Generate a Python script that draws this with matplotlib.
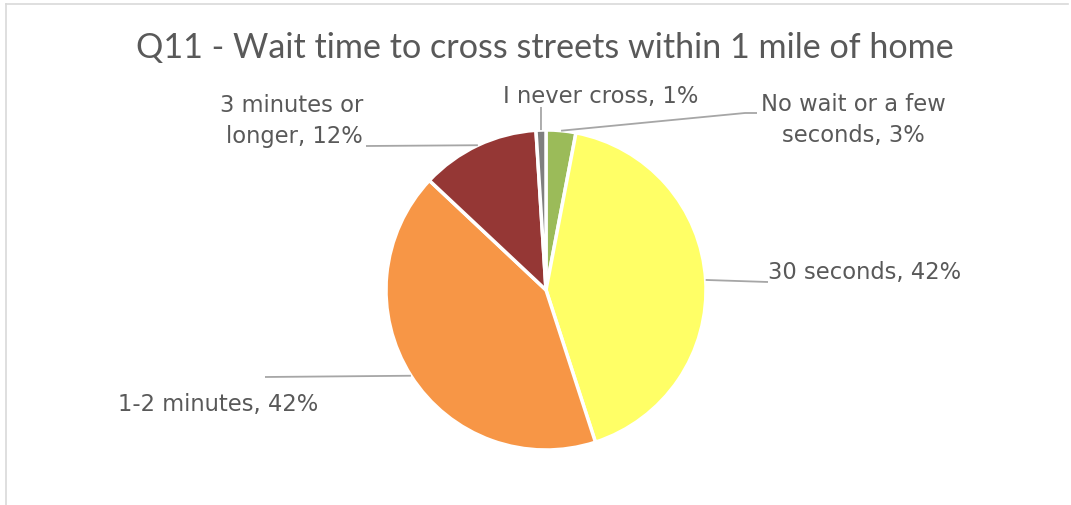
import matplotlib.pyplot as plt
import numpy as np
from matplotlib.lines import Line2D

# survey answers, clockwise from 12 o'clock
categories = ["No wait or a few seconds", "30 seconds", "1-2 minutes",
              "3 minutes or longer", "I never cross"]
shares = [3, 42, 42, 12, 1]
label_texts = ["No wait or a few\nseconds, 3%", "30 seconds, 42%", "1-2 minutes, 42%",
               "3 minutes or\nlonger, 12%", "I never cross, 1%"]
colors = ["#9BBB59", "#FFFF66", "#F79646", "#953735", "#7F7F7F"]
title = "Q11 - Wait time to cross streets within 1 mile of home"

W, H = 1071, 505
fig = plt.figure(figsize=(W / 100, H / 100), dpi=100)
ax = fig.add_axes([0, 0, 1, 1])

cx, cy, r = 546, H - 290, 160
wedges, _ = ax.pie(shares, colors=colors, center=(cx, cy), radius=r,
                   startangle=90, counterclock=False,
                   wedgeprops=dict(edgecolor="white", linewidth=2.5))
ax.set_xlim(0, W)
ax.set_ylim(0, H)
ax.set_aspect("equal")
ax.axis("off")

txt = "#595959"
lead = "#A6A6A6"
lab_font = dict(family="DejaVu Sans", fontsize=16.3, color=txt)

# label anchor (text x, y, ha) and leader path after the slice edge point
layout = [
    dict(xy=(853, 120), ha="center", path=[(745, 113), (757, 113)]),
    dict(xy=(768, 273), ha="left", path=[(768, 282)]),
    dict(xy=(318, 404), ha="right", path=[(265, 377)]),
    dict(xy=(363, 121), ha="right", path=[(366, 146)]),
    dict(xy=(601, 96), ha="center", path=[(541, 107)]),
]

for w, text, lay in zip(wedges, label_texts, layout):
    mid = np.deg2rad((w.theta1 + w.theta2) / 2)
    ex, ey = cx + r * np.cos(mid), cy + r * np.sin(mid)
    xs = [ex] + [p[0] for p in lay["path"]]
    ys = [ey] + [H - p[1] for p in lay["path"]]
    ax.plot(xs, ys, color=lead, lw=1.3, solid_capstyle="butt")
    tx, ty = lay["xy"]
    ax.text(tx, H - ty, text, ha=lay["ha"], va="center", linespacing=1.45,
            **lab_font)

ax.text(545, H - 48, title, ha="center", va="center", family="Lato",
        fontsize=24.6, color=txt)

# chart area border
fig.add_artist(Line2D([6 / W, 1068 / W], [1 - 4 / H, 1 - 4 / H], color="#D9D9D9", lw=1.2))
fig.add_artist(Line2D([6 / W, 6 / W], [0, 1 - 4 / H], color="#D9D9D9", lw=1.2))

fig.savefig("out.png", dpi=100)
